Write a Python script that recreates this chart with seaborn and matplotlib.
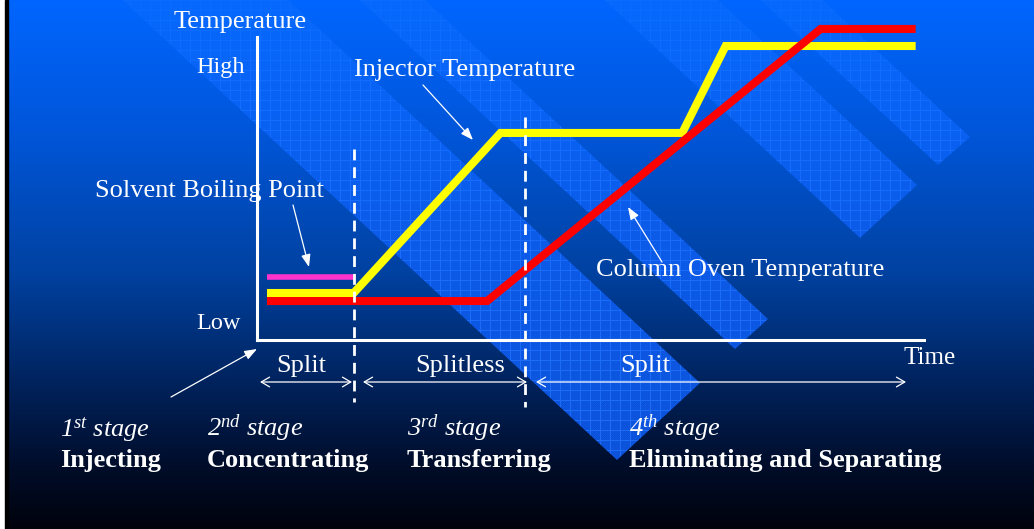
import numpy as np
import pandas as pd
import matplotlib
matplotlib.use("Agg")
import matplotlib.pyplot as plt
from matplotlib.path import Path
from matplotlib.patches import PathPatch, Rectangle
from matplotlib.colors import to_rgb
import seaborn as sns

# ---- temperature programme (time in arbitrary units, temperature 0 = low .. 100 = top of frame)
injector_time = [0.3, 2.9, 7.3, 12.75, 14.05, 19.75]
injector_temp = [14.6, 14.6, 64.3, 64.3, 91.3, 91.3]
oven_time = [0.3, 6.9, 16.9, 19.75]
oven_temp = [12.1, 12.1, 96.6, 96.6]
solvent_time = [0.3, 2.9]
solvent_temp = [19.6, 19.6]
valve_switch_time = [2.9, 8.05]          # split -> splitless -> split

phase_labels = ["Split", "Splitless", "Split"]
stage_numbers = ["1", "2", "3", "4"]
stage_suffixes = ["st", "nd", "rd", "th"]
stage_names = ["Injecting", "Concentrating", "Transferring", "Eliminating and Separating"]

sns.set_theme(style="white")
plt.rcParams["font.family"] = ["Liberation Serif", "DejaVu Serif"]
# mathtext is only used for the ordinal superscripts, which are set in italic
plt.rcParams["mathtext.fontset"] = "custom"
plt.rcParams["mathtext.it"] = "Liberation Serif:italic"
plt.rcParams["mathtext.rm"] = "Liberation Serif:italic"
plt.rcParams["mathtext.bf"] = "Liberation Serif:bold"

W, H = 1034, 529
fig = plt.figure(figsize=(W / 100, H / 100), dpi=100)

# ---- slide background (pixel coordinates, y downwards)
bg = fig.add_axes([0, 0, 1, 1], zorder=0)
bg.axis("off")

ys = np.arange(H) + 0.5


def vertical_ramp(stops_y, stops_hex):
    cols = np.array([to_rgb(c) for c in stops_hex])
    return np.stack([np.interp(ys, stops_y, cols[:, k]) for k in range(3)], axis=-1)


grad = vertical_ramp([0, 130, 270, 400, 470, 529],
                     ["#0066FF", "#0056DA", "#0042A2", "#001E52", "#000C28", "#00030C"])
bg.imshow(grad[:, None, :], extent=[0, W, H, 0], aspect="auto",
          interpolation="bilinear", zorder=0)

# textured diagonal ribbons: blue ramp with a fine 10 px grid
band = vertical_ramp([0, 220, 470], ["#0668FD", "#0A5AE8", "#0A50D8"])
tex = np.repeat(band[:, None, :], W, axis=1)
yy, xx = np.mgrid[0:H, 0:W]
grid_on = (xx % 10 == 0) | (yy % 10 == 0)
boost = np.interp(yy, [0, 120, 460], [0.015, 0.05, 0.10])
tex = tex + (grid_on * boost)[..., None] * np.array([0.8, 1.0, 1.0])
tex = tex + (((xx + yy) % 2 == 0) * np.interp(yy, [0, 460], [0.005, 0.02]))[..., None]
tex = np.clip(tex, 0, 1)

slope = 0.93
bands = [((617, 460), (700, 383)), ((735, 349), (768, 319)),
         ((860, 238), (917, 185)), ((938, 165), (970, 137))]
for (tx, ty), (rx, ry) in bands:
    top = -5
    verts = [(tx, ty), (rx, ry), (rx - (ry - top) / slope, top),
             (tx - (ty - top) / slope, top), (tx, ty)]
    patch = PathPatch(Path(verts), transform=bg.transData, facecolor="none",
                      edgecolor="none", lw=0, zorder=1)
    bg.add_patch(patch)
    im = bg.imshow(tex, extent=[0, W, H, 0], aspect="auto",
                   interpolation="nearest", zorder=1)
    im.set_clip_path(patch)

bg.add_patch(Rectangle((0, 0), 5, H, color="white", zorder=3))
bg.add_patch(Rectangle((5, 0), 3, H, color="black", zorder=3))
bg.set_xlim(0, W)
bg.set_ylim(H, 0)

# ---- temperature chart
ax = fig.add_axes([257 / W, (H - 340) / H, 667 / W, 322 / H], zorder=1)
ax.set_facecolor("none")

line_kw = dict(estimator=None, sort=False, legend=False,
               solid_joinstyle="miter", solid_capstyle="butt")
sns.lineplot(x=solvent_time, y=solvent_temp, ax=ax, color="#FF33CC", linewidth=4.0, **line_kw)
sns.lineplot(x=injector_time, y=injector_temp, ax=ax, color="#FFFF00", linewidth=5.8, **line_kw)
sns.lineplot(x=oven_time, y=oven_temp, ax=ax, color="#FF0000", linewidth=5.8, **line_kw)

for t, y_top, y_bot in zip(valve_switch_time, [59.3, 69.3], [-19.3, -20.8]):
    ax.plot([t, t], [y_top, y_bot], color="white", lw=2.0, dashes=(3.9, 2.5),
            dash_capstyle="butt", clip_on=False, zorder=3)

ax.set_xlim(0, 20)
ax.set_ylim(0, 100)
ax.set_xticks([])
ax.set_yticks([])
ax.set_xlabel("")
ax.set_ylabel("")
for side in ("top", "right"):
    ax.spines[side].set_visible(False)
for side in ("left", "bottom"):
    ax.spines[side].set_color("white")
    ax.spines[side].set_linewidth(2.2)
ax.spines["left"].set_bounds(0, 94.1)

# ---- labels
txt = dict(color="white", va="baseline")
bg.text(240, 28, "Temperature", fontsize=19, ha="center", **txt)
bg.text(245, 73, "High", fontsize=17.5, ha="right", **txt)
bg.text(241, 329, "Low", fontsize=17.5, ha="right", **txt)
bg.text(903, 364, "Time", fontsize=18, ha="left", **txt)
bg.text(354, 76, "Injector Temperature", fontsize=19, ha="left", **txt)
bg.text(95, 197, "Solvent Boiling Point", fontsize=19, ha="left", **txt)
bg.text(596, 276, "Column Oven Temperature", fontsize=19, ha="left", **txt)


def pointer(tail, head):
    bg.annotate("", xy=head, xytext=tail,
                arrowprops=dict(arrowstyle="-|>,head_length=0.75,head_width=0.28",
                                color="white", lw=0.9, shrinkA=0, shrinkB=0,
                                mutation_scale=10))


pointer((423, 85), (473, 140))
pointer((293, 205), (309, 267))
pointer((662, 262), (628, 207))
pointer((171, 397), (257, 349))

# phase (split / splitless) spans
phase_spans = [(260, 352), (363, 527), (536, 906)]
phase_centres = [301, 460, 645]
for (x0, x1), xc, lab in zip(phase_spans, phase_centres, phase_labels):
    bg.annotate("", xy=(x1, 382), xytext=(x0, 382),
                arrowprops=dict(arrowstyle="<->,head_length=0.6,head_width=0.35",
                                color="white", lw=0.9, shrinkA=0, shrinkB=0,
                                mutation_scale=10))
    bg.text(xc, 372, lab, fontsize=19, ha="center", **txt)

# stage captions
stage_x = [60, 207, 407, 629]
for x, num, suf, name in zip(stage_x, stage_numbers, stage_suffixes, stage_names):
    bg.text(x, 436, rf"$\mathrm{{{num}}}^{{\mathrm{{{suf}}}}}$ stage", fontsize=19,
            fontstyle="italic", ha="left", **txt)
    bg.text(x, 467, name, fontsize=19, fontweight="bold", ha="left", **txt)

fig.savefig("out.png", dpi=100)
